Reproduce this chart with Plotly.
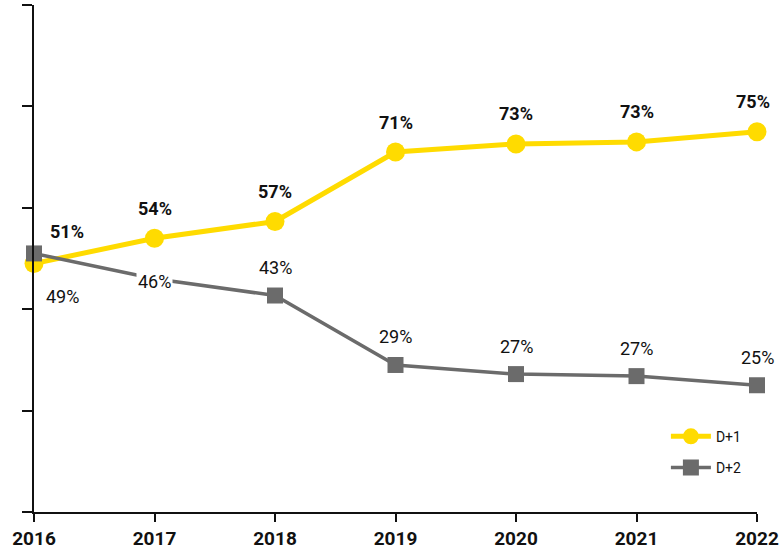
import plotly.graph_objects as go

years = [2016, 2017, 2018, 2019, 2020, 2021, 2022]
d1_values = [49, 54, 57.3, 71, 72.6, 73, 75]
d2_values = [51, 46, 42.7, 29, 27.2, 26.8, 25]
d1_labels = ["51%", "54%", "57%", "71%", "73%", "73%", "75%"]
d2_labels = ["49%", "46%", "43%", "29%", "27%", "27%", "25%"]

YELLOW = "#FFDB00"
GREY = "#6B6B6B"
FONT = "Roboto"

fig = go.Figure()
fig.add_trace(go.Scatter(
    x=years, y=d1_values, name="D+1", mode="lines+markers", legendgroup="a",
    line=dict(color=YELLOW, width=5),
    marker=dict(symbol="circle", size=19, color=YELLOW),
    cliponaxis=False,
))
fig.add_trace(go.Scatter(
    x=years, y=d2_values, name="D+2", mode="lines+markers", legendgroup="b",
    line=dict(color=GREY, width=3.5),
    marker=dict(symbol="square", size=16, color=GREY),
    cliponaxis=False,
))

annotations = []
for i, (x, y, t) in enumerate(zip(years, d1_values, d1_labels)):
    xs = 0
    ys = 30
    if i == 0:
        xs, ys = 33, 32
    if i == len(years) - 1:
        xs = -4
    annotations.append(dict(x=x, y=y, text=t, showarrow=False, xshift=xs, yshift=ys,
                            font=dict(family=FONT, size=18, color="#111111", weight="bold")))
for i, (x, y, t) in enumerate(zip(years, d2_values, d2_labels)):
    xs = 0
    ys = 28
    bg = None
    if i == 0:
        xs, ys = 28, -43
    elif i == 1:
        ys = -3
        bg = "white"
    a = dict(x=x, y=y, text=t, showarrow=False, xshift=xs, yshift=ys,
             font=dict(family=FONT, size=18, color="#111111"))
    if bg:
        a["bgcolor"] = bg
    annotations.append(a)

fig.update_layout(
    width=780, height=550,
    margin=dict(l=34, r=23, t=5, b=38),
    plot_bgcolor="white", paper_bgcolor="white",
    font=dict(family=FONT, color="#111111"),
    annotations=annotations,
    showlegend=True,
    legend=dict(x=0.874, y=0.18, xanchor="left", yanchor="top",
                font=dict(family=FONT, size=14, color="#111111"),
                traceorder="grouped", tracegroupgap=10,
                bgcolor="rgba(0,0,0,0)", itemwidth=40),
    xaxis=dict(range=[2016, 2022], tickvals=years, showline=True, linecolor="#111111",
               linewidth=2, ticks="outside", ticklen=8, tickwidth=2, tickcolor="#111111",
               showgrid=False, zeroline=False, automargin=False,
               tickfont=dict(family=FONT, size=19, color="#111111", weight="bold")),
    yaxis=dict(range=[0, 100], dtick=20, showline=True, linecolor="#111111",
               linewidth=2, ticks="outside", ticklen=10, tickwidth=2, tickcolor="#111111",
               showticklabels=False, showgrid=False, zeroline=False, automargin=False),
)

fig.write_html("out.html")
